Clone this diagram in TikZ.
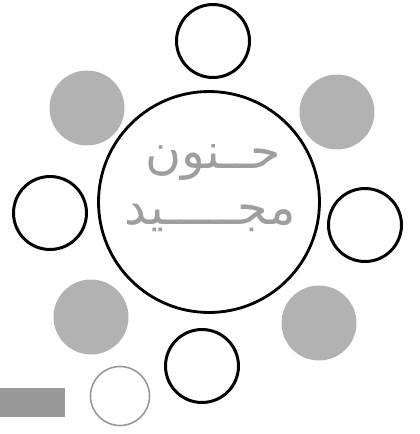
\documentclass[tikz,border=0pt]{standalone}
\usepackage{fontspec}
\newfontfamily\arabicfont[Script=Arabic]{DejaVu Sans}
\TeXXeTstate=1
\usetikzlibrary{positioning}
\tikzset{
    hubring/.style={
        draw,
        circle,
        line width=1.6pt,
        inner sep=0pt,
        minimum size=4.42cm
    },
    ring/.style={
        draw,
        circle,
        line width=1.7pt,
        inner sep=0pt,
        minimum size=1.46cm
    },
    disc/.style={
        circle,
        fill=black!30,
        inner sep=0pt,
        minimum size=1.5cm
    },
    faintring/.style={draw=black!40, circle, line width=0.9pt, inner sep=0pt, minimum size=1.18cm},
    stamp/.style={fill=black!40, inner sep=0pt, minimum width=1.3cm, minimum height=0.58cm, anchor=north west},
    calli/.style={font=\arabicfont\fontsize{28}{34}\selectfont, text=black!38, inner sep=0pt}
}

\begin{document}
\begin{tikzpicture}[x=0.02cm, y=-0.02cm]
\useasboundingbox (0,0) rectangle (420,434);

% centre
\node[calli] (name1) at (213,162) {\beginR حــنون\endR};
\node[calli] (name2) at (210,218) {\beginR مجـــــيد\endR};
\node[hubring] (hub) at (209,202) {};

% outlined circles
\node[ring] (top) at (213,41) {};
\node[ring] (left) at (50,213) {};
\node[ring] (right) at (365,225) {};
\node[ring] (bottom) at (202,366) {};

% grey discs
\node[disc] (topleft) at (87,108) {};
\node[disc] (topright) at (337,112) {};
\node[disc] (botleft) at (91,317) {};
\node[disc] (botright) at (319,323) {};

% faint one and the patch
\node[faintring] (faint) at (120,396) {};
\node[stamp] (patch) at (0,388) {};
\end{tikzpicture}
\end{document}
